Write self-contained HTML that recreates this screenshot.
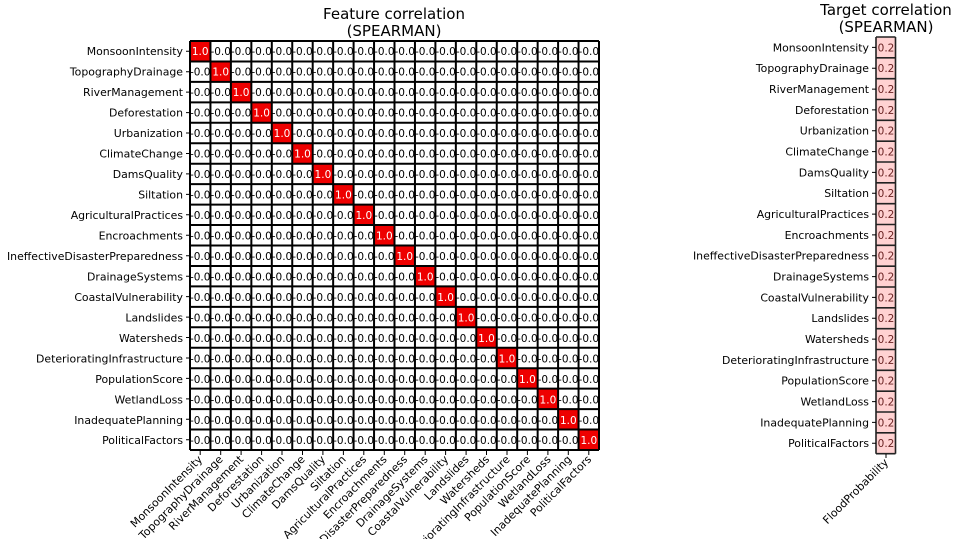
<!DOCTYPE html>
<html><head><meta charset="utf-8"><style>
body{margin:0;background:#fff;overflow:hidden}
svg{display:block;font-family:"DejaVu Sans","Liberation Sans",sans-serif}
.c{font-size:10.5px;text-anchor:middle}
.w{fill:#fff}
.l{font-size:10.9px;text-anchor:end}
.t{font-size:15px;text-anchor:middle}
.p{font-size:10.5px;text-anchor:middle;fill:#6a2222}
</style></head><body>
<svg width="960" height="539" viewBox="0 0 960 539">
<text class="t" x="394" y="19">Feature correlation</text>
<text class="t" x="394" y="36">(SPEARMAN)</text>
<text class="t" x="886" y="15">Target correlation</text>
<text class="t" x="886" y="32">(SPEARMAN)</text>
<g fill="#e00">
<rect x="190" y="41" width="20.45" height="20.45"/><rect x="210.45" y="61.45" width="20.45" height="20.45"/><rect x="230.9" y="81.9" width="20.45" height="20.45"/><rect x="251.35" y="102.35" width="20.45" height="20.45"/><rect x="271.8" y="122.8" width="20.45" height="20.45"/><rect x="292.25" y="143.25" width="20.45" height="20.45"/><rect x="312.7" y="163.7" width="20.45" height="20.45"/><rect x="333.15" y="184.15" width="20.45" height="20.45"/><rect x="353.6" y="204.6" width="20.45" height="20.45"/><rect x="374.05" y="225.05" width="20.45" height="20.45"/><rect x="394.5" y="245.5" width="20.45" height="20.45"/><rect x="414.95" y="265.95" width="20.45" height="20.45"/><rect x="435.4" y="286.4" width="20.45" height="20.45"/><rect x="455.85" y="306.85" width="20.45" height="20.45"/><rect x="476.3" y="327.3" width="20.45" height="20.45"/><rect x="496.75" y="347.75" width="20.45" height="20.45"/><rect x="517.2" y="368.2" width="20.45" height="20.45"/><rect x="537.65" y="388.65" width="20.45" height="20.45"/><rect x="558.1" y="409.1" width="20.45" height="20.45"/><rect x="578.55" y="429.55" width="20.45" height="20.45"/>
</g>
<rect x="876" y="37" width="19.5" height="416.7" fill="#ffd2d2"/>
<g stroke="#000" stroke-width="2" fill="none">
<path d="M190 41V450M210.45 41V450M230.9 41V450M251.35 41V450M271.8 41V450M292.25 41V450M312.7 41V450M333.15 41V450M353.6 41V450M374.05 41V450M394.5 41V450M414.95 41V450M435.4 41V450M455.85 41V450M476.3 41V450M496.75 41V450M517.2 41V450M537.65 41V450M558.1 41V450M578.55 41V450M599 41V450"/>
<path d="M190 41H599M190 61.45H599M190 81.9H599M190 102.35H599M190 122.8H599M190 143.25H599M190 163.7H599M190 184.15H599M190 204.6H599M190 225.05H599M190 245.5H599M190 265.95H599M190 286.4H599M190 306.85H599M190 327.3H599M190 347.75H599M190 368.2H599M190 388.65H599M190 409.1H599M190 429.55H599M190 450H599"/>
</g>
<g stroke="#222" stroke-width="1.6" fill="none">
<path d="M876 37V453.7M895.5 37V453.7M876 37H895.5M876 57.8H895.5M876 78.7H895.5M876 99.5H895.5M876 120.3H895.5M876 141.2H895.5M876 162H895.5M876 182.8H895.5M876 203.7H895.5M876 224.5H895.5M876 245.3H895.5M876 266.2H895.5M876 287H895.5M876 307.8H895.5M876 328.7H895.5M876 349.5H895.5M876 370.3H895.5M876 391.2H895.5M876 412H895.5M876 432.8H895.5M876 453.7H895.5"/>
</g>
<g stroke="#000" stroke-width="1">
<path d="M186 51.2H190M186 71.7H190M186 92.1H190M186 112.6H190M186 133H190M186 153.5H190M186 173.9H190M186 194.4H190M186 214.8H190M186 235.3H190M186 255.7H190M186 276.2H190M186 296.6H190M186 317.1H190M186 337.5H190M186 358H190M186 378.4H190M186 398.9H190M186 419.3H190M186 439.8H190"/>
<path d="M872 47.4H876M872 68.2H876M872 89.1H876M872 109.9H876M872 130.7H876M872 151.6H876M872 172.4H876M872 193.2H876M872 214.1H876M872 234.9H876M872 255.7H876M872 276.6H876M872 297.4H876M872 318.2H876M872 339.1H876M872 359.9H876M872 380.7H876M872 401.6H876M872 422.4H876M872 443.2H876"/>
<path d="M200.2 451V455M220.7 451V455M241.1 451V455M261.6 451V455M282 451V455M302.5 451V455M322.9 451V455M343.4 451V455M363.8 451V455M384.3 451V455M404.7 451V455M425.2 451V455M445.6 451V455M466.1 451V455M486.5 451V455M507 451V455M527.4 451V455M547.9 451V455M568.3 451V455M588.8 451V455M886 454V458"/>
</g>
<g class="l">
<text x="183" y="55">MonsoonIntensity</text><text x="183" y="75.5">TopographyDrainage</text><text x="183" y="96">RiverManagement</text><text x="183" y="116.5">Deforestation</text><text x="183" y="137">Urbanization</text><text x="183" y="157.5">ClimateChange</text><text x="183" y="178">DamsQuality</text><text x="183" y="198.5">Siltation</text><text x="183" y="219">AgriculturalPractices</text><text x="183" y="239.5">Encroachments</text><text x="183" y="260">IneffectiveDisasterPreparedness</text><text x="183" y="280.5">DrainageSystems</text><text x="183" y="301">CoastalVulnerability</text><text x="183" y="321.5">Landslides</text><text x="183" y="342">Watersheds</text><text x="183" y="362.5">DeterioratingInfrastructure</text><text x="183" y="383">PopulationScore</text><text x="183" y="403.5">WetlandLoss</text><text x="183" y="424">InadequatePlanning</text><text x="183" y="444">PoliticalFactors</text>
</g>
<g class="l">
<text x="869" y="51.4">MonsoonIntensity</text><text x="869" y="72.2">TopographyDrainage</text><text x="869" y="93.1">RiverManagement</text><text x="869" y="113.9">Deforestation</text><text x="869" y="134.7">Urbanization</text><text x="869" y="155.6">ClimateChange</text><text x="869" y="176.4">DamsQuality</text><text x="869" y="197.2">Siltation</text><text x="869" y="218.1">AgriculturalPractices</text><text x="869" y="238.9">Encroachments</text><text x="869" y="259.7">IneffectiveDisasterPreparedness</text><text x="869" y="280.6">DrainageSystems</text><text x="869" y="301.4">CoastalVulnerability</text><text x="869" y="322.2">Landslides</text><text x="869" y="343.1">Watersheds</text><text x="869" y="363.9">DeterioratingInfrastructure</text><text x="869" y="384.7">PopulationScore</text><text x="869" y="405.6">WetlandLoss</text><text x="869" y="426.4">InadequatePlanning</text><text x="869" y="447.2">PoliticalFactors</text>
</g>
<g class="l">
<text transform="translate(203,460) rotate(-45)">MonsoonIntensity</text><text transform="translate(223.5,460) rotate(-45)">TopographyDrainage</text><text transform="translate(244,460) rotate(-45)">RiverManagement</text><text transform="translate(264.5,460) rotate(-45)">Deforestation</text><text transform="translate(285,460) rotate(-45)">Urbanization</text><text transform="translate(305.5,460) rotate(-45)">ClimateChange</text><text transform="translate(326,460) rotate(-45)">DamsQuality</text><text transform="translate(346.5,460) rotate(-45)">Siltation</text><text transform="translate(367,460) rotate(-45)">AgriculturalPractices</text><text transform="translate(387.5,460) rotate(-45)">Encroachments</text><text transform="translate(408,460) rotate(-45)">IneffectiveDisasterPreparedness</text><text transform="translate(428.5,460) rotate(-45)">DrainageSystems</text><text transform="translate(449,460) rotate(-45)">CoastalVulnerability</text><text transform="translate(469.5,460) rotate(-45)">Landslides</text><text transform="translate(490,460) rotate(-45)">Watersheds</text><text transform="translate(510.5,460) rotate(-45)">DeterioratingInfrastructure</text><text transform="translate(531,460) rotate(-45)">PopulationScore</text><text transform="translate(551.5,460) rotate(-45)">WetlandLoss</text><text transform="translate(572,460) rotate(-45)">InadequatePlanning</text><text transform="translate(592,460) rotate(-45)">PoliticalFactors</text>
<text transform="translate(889,463) rotate(-45)">FloodProbability</text>
</g>
<g class="p">
<text x="886" y="51.4">0.2</text><text x="886" y="72.2">0.2</text><text x="886" y="93.1">0.2</text><text x="886" y="113.9">0.2</text><text x="886" y="134.7">0.2</text><text x="886" y="155.6">0.2</text><text x="886" y="176.4">0.2</text><text x="886" y="197.2">0.2</text><text x="886" y="218.1">0.2</text><text x="886" y="238.9">0.2</text><text x="886" y="259.7">0.2</text><text x="886" y="280.6">0.2</text><text x="886" y="301.4">0.2</text><text x="886" y="322.2">0.2</text><text x="886" y="343.1">0.2</text><text x="886" y="363.9">0.2</text><text x="886" y="384.7">0.2</text><text x="886" y="405.6">0.2</text><text x="886" y="426.4">0.2</text><text x="886" y="447.2">0.2</text>
</g>
<g class="c">
<g transform="translate(0,55)"><text class="w" x="200.2">1.0</text><text x="220.7">-0.0</text><text x="241.1">-0.0</text><text x="261.6">-0.0</text><text x="282">-0.0</text><text x="302.5">-0.0</text><text x="322.9">-0.0</text><text x="343.4">-0.0</text><text x="363.8">-0.0</text><text x="384.3">-0.0</text><text x="404.7">-0.0</text><text x="425.2">-0.0</text><text x="445.6">-0.0</text><text x="466.1">-0.0</text><text x="486.5">-0.0</text><text x="507">-0.0</text><text x="527.4">-0.0</text><text x="547.9">-0.0</text><text x="568.3">-0.0</text><text x="588.8">-0.0</text></g>
<g transform="translate(0,75.5)"><text x="200.2">-0.0</text><text class="w" x="220.7">1.0</text><text x="241.1">-0.0</text><text x="261.6">-0.0</text><text x="282">-0.0</text><text x="302.5">-0.0</text><text x="322.9">-0.0</text><text x="343.4">-0.0</text><text x="363.8">-0.0</text><text x="384.3">-0.0</text><text x="404.7">-0.0</text><text x="425.2">-0.0</text><text x="445.6">-0.0</text><text x="466.1">-0.0</text><text x="486.5">-0.0</text><text x="507">-0.0</text><text x="527.4">-0.0</text><text x="547.9">-0.0</text><text x="568.3">-0.0</text><text x="588.8">-0.0</text></g>
<g transform="translate(0,96)"><text x="200.2">-0.0</text><text x="220.7">-0.0</text><text class="w" x="241.1">1.0</text><text x="261.6">-0.0</text><text x="282">-0.0</text><text x="302.5">-0.0</text><text x="322.9">-0.0</text><text x="343.4">-0.0</text><text x="363.8">-0.0</text><text x="384.3">-0.0</text><text x="404.7">-0.0</text><text x="425.2">-0.0</text><text x="445.6">-0.0</text><text x="466.1">-0.0</text><text x="486.5">-0.0</text><text x="507">-0.0</text><text x="527.4">-0.0</text><text x="547.9">-0.0</text><text x="568.3">-0.0</text><text x="588.8">-0.0</text></g>
<g transform="translate(0,116.5)"><text x="200.2">-0.0</text><text x="220.7">-0.0</text><text x="241.1">-0.0</text><text class="w" x="261.6">1.0</text><text x="282">-0.0</text><text x="302.5">-0.0</text><text x="322.9">-0.0</text><text x="343.4">-0.0</text><text x="363.8">-0.0</text><text x="384.3">-0.0</text><text x="404.7">-0.0</text><text x="425.2">-0.0</text><text x="445.6">-0.0</text><text x="466.1">-0.0</text><text x="486.5">-0.0</text><text x="507">-0.0</text><text x="527.4">-0.0</text><text x="547.9">-0.0</text><text x="568.3">-0.0</text><text x="588.8">-0.0</text></g>
<g transform="translate(0,137)"><text x="200.2">-0.0</text><text x="220.7">-0.0</text><text x="241.1">-0.0</text><text x="261.6">-0.0</text><text class="w" x="282">1.0</text><text x="302.5">-0.0</text><text x="322.9">-0.0</text><text x="343.4">-0.0</text><text x="363.8">-0.0</text><text x="384.3">-0.0</text><text x="404.7">-0.0</text><text x="425.2">-0.0</text><text x="445.6">-0.0</text><text x="466.1">-0.0</text><text x="486.5">-0.0</text><text x="507">-0.0</text><text x="527.4">-0.0</text><text x="547.9">-0.0</text><text x="568.3">-0.0</text><text x="588.8">-0.0</text></g>
<g transform="translate(0,157.5)"><text x="200.2">-0.0</text><text x="220.7">-0.0</text><text x="241.1">-0.0</text><text x="261.6">-0.0</text><text x="282">-0.0</text><text class="w" x="302.5">1.0</text><text x="322.9">-0.0</text><text x="343.4">-0.0</text><text x="363.8">-0.0</text><text x="384.3">-0.0</text><text x="404.7">-0.0</text><text x="425.2">-0.0</text><text x="445.6">-0.0</text><text x="466.1">-0.0</text><text x="486.5">-0.0</text><text x="507">-0.0</text><text x="527.4">-0.0</text><text x="547.9">-0.0</text><text x="568.3">-0.0</text><text x="588.8">-0.0</text></g>
<g transform="translate(0,178)"><text x="200.2">-0.0</text><text x="220.7">-0.0</text><text x="241.1">-0.0</text><text x="261.6">-0.0</text><text x="282">-0.0</text><text x="302.5">-0.0</text><text class="w" x="322.9">1.0</text><text x="343.4">-0.0</text><text x="363.8">-0.0</text><text x="384.3">-0.0</text><text x="404.7">-0.0</text><text x="425.2">-0.0</text><text x="445.6">-0.0</text><text x="466.1">-0.0</text><text x="486.5">-0.0</text><text x="507">-0.0</text><text x="527.4">-0.0</text><text x="547.9">-0.0</text><text x="568.3">-0.0</text><text x="588.8">-0.0</text></g>
<g transform="translate(0,198.5)"><text x="200.2">-0.0</text><text x="220.7">-0.0</text><text x="241.1">-0.0</text><text x="261.6">-0.0</text><text x="282">-0.0</text><text x="302.5">-0.0</text><text x="322.9">-0.0</text><text class="w" x="343.4">1.0</text><text x="363.8">-0.0</text><text x="384.3">-0.0</text><text x="404.7">-0.0</text><text x="425.2">-0.0</text><text x="445.6">-0.0</text><text x="466.1">-0.0</text><text x="486.5">-0.0</text><text x="507">-0.0</text><text x="527.4">-0.0</text><text x="547.9">-0.0</text><text x="568.3">-0.0</text><text x="588.8">-0.0</text></g>
<g transform="translate(0,219)"><text x="200.2">-0.0</text><text x="220.7">-0.0</text><text x="241.1">-0.0</text><text x="261.6">-0.0</text><text x="282">-0.0</text><text x="302.5">-0.0</text><text x="322.9">-0.0</text><text x="343.4">-0.0</text><text class="w" x="363.8">1.0</text><text x="384.3">-0.0</text><text x="404.7">-0.0</text><text x="425.2">-0.0</text><text x="445.6">-0.0</text><text x="466.1">-0.0</text><text x="486.5">-0.0</text><text x="507">-0.0</text><text x="527.4">-0.0</text><text x="547.9">-0.0</text><text x="568.3">-0.0</text><text x="588.8">-0.0</text></g>
<g transform="translate(0,239.5)"><text x="200.2">-0.0</text><text x="220.7">-0.0</text><text x="241.1">-0.0</text><text x="261.6">-0.0</text><text x="282">-0.0</text><text x="302.5">-0.0</text><text x="322.9">-0.0</text><text x="343.4">-0.0</text><text x="363.8">-0.0</text><text class="w" x="384.3">1.0</text><text x="404.7">-0.0</text><text x="425.2">-0.0</text><text x="445.6">-0.0</text><text x="466.1">-0.0</text><text x="486.5">-0.0</text><text x="507">-0.0</text><text x="527.4">-0.0</text><text x="547.9">-0.0</text><text x="568.3">-0.0</text><text x="588.8">-0.0</text></g>
<g transform="translate(0,260)"><text x="200.2">-0.0</text><text x="220.7">-0.0</text><text x="241.1">-0.0</text><text x="261.6">-0.0</text><text x="282">-0.0</text><text x="302.5">-0.0</text><text x="322.9">-0.0</text><text x="343.4">-0.0</text><text x="363.8">-0.0</text><text x="384.3">-0.0</text><text class="w" x="404.7">1.0</text><text x="425.2">-0.0</text><text x="445.6">-0.0</text><text x="466.1">-0.0</text><text x="486.5">-0.0</text><text x="507">-0.0</text><text x="527.4">-0.0</text><text x="547.9">-0.0</text><text x="568.3">-0.0</text><text x="588.8">-0.0</text></g>
<g transform="translate(0,280.5)"><text x="200.2">-0.0</text><text x="220.7">-0.0</text><text x="241.1">-0.0</text><text x="261.6">-0.0</text><text x="282">-0.0</text><text x="302.5">-0.0</text><text x="322.9">-0.0</text><text x="343.4">-0.0</text><text x="363.8">-0.0</text><text x="384.3">-0.0</text><text x="404.7">-0.0</text><text class="w" x="425.2">1.0</text><text x="445.6">-0.0</text><text x="466.1">-0.0</text><text x="486.5">-0.0</text><text x="507">-0.0</text><text x="527.4">-0.0</text><text x="547.9">-0.0</text><text x="568.3">-0.0</text><text x="588.8">-0.0</text></g>
<g transform="translate(0,301)"><text x="200.2">-0.0</text><text x="220.7">-0.0</text><text x="241.1">-0.0</text><text x="261.6">-0.0</text><text x="282">-0.0</text><text x="302.5">-0.0</text><text x="322.9">-0.0</text><text x="343.4">-0.0</text><text x="363.8">-0.0</text><text x="384.3">-0.0</text><text x="404.7">-0.0</text><text x="425.2">-0.0</text><text class="w" x="445.6">1.0</text><text x="466.1">-0.0</text><text x="486.5">-0.0</text><text x="507">-0.0</text><text x="527.4">-0.0</text><text x="547.9">-0.0</text><text x="568.3">-0.0</text><text x="588.8">-0.0</text></g>
<g transform="translate(0,321.5)"><text x="200.2">-0.0</text><text x="220.7">-0.0</text><text x="241.1">-0.0</text><text x="261.6">-0.0</text><text x="282">-0.0</text><text x="302.5">-0.0</text><text x="322.9">-0.0</text><text x="343.4">-0.0</text><text x="363.8">-0.0</text><text x="384.3">-0.0</text><text x="404.7">-0.0</text><text x="425.2">-0.0</text><text x="445.6">-0.0</text><text class="w" x="466.1">1.0</text><text x="486.5">-0.0</text><text x="507">-0.0</text><text x="527.4">-0.0</text><text x="547.9">-0.0</text><text x="568.3">-0.0</text><text x="588.8">-0.0</text></g>
<g transform="translate(0,342)"><text x="200.2">-0.0</text><text x="220.7">-0.0</text><text x="241.1">-0.0</text><text x="261.6">-0.0</text><text x="282">-0.0</text><text x="302.5">-0.0</text><text x="322.9">-0.0</text><text x="343.4">-0.0</text><text x="363.8">-0.0</text><text x="384.3">-0.0</text><text x="404.7">-0.0</text><text x="425.2">-0.0</text><text x="445.6">-0.0</text><text x="466.1">-0.0</text><text class="w" x="486.5">1.0</text><text x="507">-0.0</text><text x="527.4">-0.0</text><text x="547.9">-0.0</text><text x="568.3">-0.0</text><text x="588.8">-0.0</text></g>
<g transform="translate(0,362.5)"><text x="200.2">-0.0</text><text x="220.7">-0.0</text><text x="241.1">-0.0</text><text x="261.6">-0.0</text><text x="282">-0.0</text><text x="302.5">-0.0</text><text x="322.9">-0.0</text><text x="343.4">-0.0</text><text x="363.8">-0.0</text><text x="384.3">-0.0</text><text x="404.7">-0.0</text><text x="425.2">-0.0</text><text x="445.6">-0.0</text><text x="466.1">-0.0</text><text x="486.5">-0.0</text><text class="w" x="507">1.0</text><text x="527.4">-0.0</text><text x="547.9">-0.0</text><text x="568.3">-0.0</text><text x="588.8">-0.0</text></g>
<g transform="translate(0,383)"><text x="200.2">-0.0</text><text x="220.7">-0.0</text><text x="241.1">-0.0</text><text x="261.6">-0.0</text><text x="282">-0.0</text><text x="302.5">-0.0</text><text x="322.9">-0.0</text><text x="343.4">-0.0</text><text x="363.8">-0.0</text><text x="384.3">-0.0</text><text x="404.7">-0.0</text><text x="425.2">-0.0</text><text x="445.6">-0.0</text><text x="466.1">-0.0</text><text x="486.5">-0.0</text><text x="507">-0.0</text><text class="w" x="527.4">1.0</text><text x="547.9">-0.0</text><text x="568.3">-0.0</text><text x="588.8">-0.0</text></g>
<g transform="translate(0,403.5)"><text x="200.2">-0.0</text><text x="220.7">-0.0</text><text x="241.1">-0.0</text><text x="261.6">-0.0</text><text x="282">-0.0</text><text x="302.5">-0.0</text><text x="322.9">-0.0</text><text x="343.4">-0.0</text><text x="363.8">-0.0</text><text x="384.3">-0.0</text><text x="404.7">-0.0</text><text x="425.2">-0.0</text><text x="445.6">-0.0</text><text x="466.1">-0.0</text><text x="486.5">-0.0</text><text x="507">-0.0</text><text x="527.4">-0.0</text><text class="w" x="547.9">1.0</text><text x="568.3">-0.0</text><text x="588.8">-0.0</text></g>
<g transform="translate(0,424)"><text x="200.2">-0.0</text><text x="220.7">-0.0</text><text x="241.1">-0.0</text><text x="261.6">-0.0</text><text x="282">-0.0</text><text x="302.5">-0.0</text><text x="322.9">-0.0</text><text x="343.4">-0.0</text><text x="363.8">-0.0</text><text x="384.3">-0.0</text><text x="404.7">-0.0</text><text x="425.2">-0.0</text><text x="445.6">-0.0</text><text x="466.1">-0.0</text><text x="486.5">-0.0</text><text x="507">-0.0</text><text x="527.4">-0.0</text><text x="547.9">-0.0</text><text class="w" x="568.3">1.0</text><text x="588.8">-0.0</text></g>
<g transform="translate(0,444)"><text x="200.2">-0.0</text><text x="220.7">-0.0</text><text x="241.1">-0.0</text><text x="261.6">-0.0</text><text x="282">-0.0</text><text x="302.5">-0.0</text><text x="322.9">-0.0</text><text x="343.4">-0.0</text><text x="363.8">-0.0</text><text x="384.3">-0.0</text><text x="404.7">-0.0</text><text x="425.2">-0.0</text><text x="445.6">-0.0</text><text x="466.1">-0.0</text><text x="486.5">-0.0</text><text x="507">-0.0</text><text x="527.4">-0.0</text><text x="547.9">-0.0</text><text x="568.3">-0.0</text><text class="w" x="588.8">1.0</text></g>
</g>
</svg>
</body></html>
